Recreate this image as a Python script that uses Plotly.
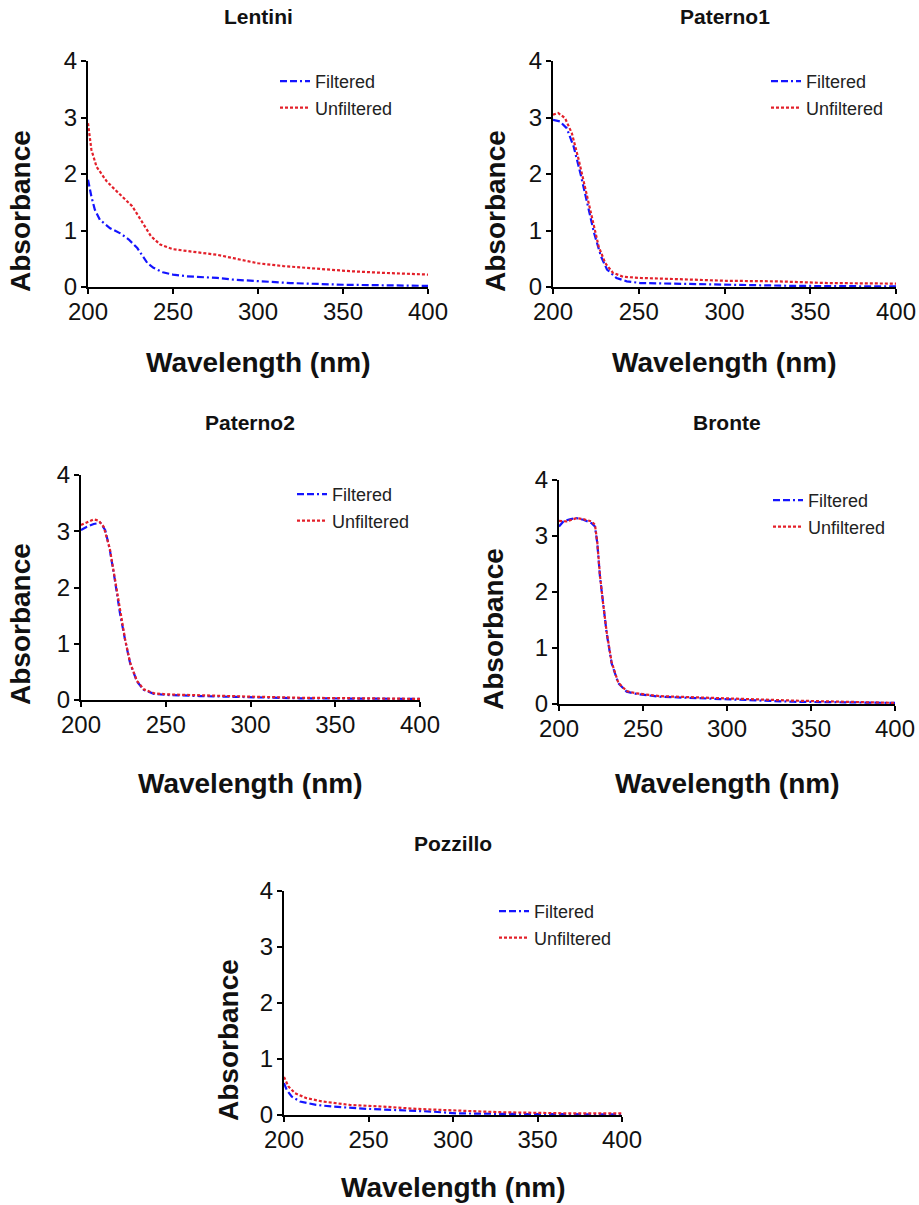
import plotly.graph_objects as go

# UV absorbance spectra (wavelength in nm) for five sampling sites
lentini_wl_f = [200, 202, 204, 207, 213, 219, 224, 229, 235, 238.5, 244, 250, 258, 276, 285.5, 300, 319, 350, 400]
lentini_f = [1.9, 1.6, 1.37, 1.19, 1.04, 0.95, 0.84, 0.69, 0.42, 0.34, 0.26, 0.22, 0.19, 0.16, 0.13, 0.10, 0.07, 0.04, 0.02]
lentini_wl_u = [200, 202, 205, 211, 216, 221, 226, 231, 237, 242.5, 250, 260, 276, 285.5, 300, 315, 334, 354, 374, 400]
lentini_u = [2.9, 2.43, 2.13, 1.87, 1.72, 1.57, 1.43, 1.19, 0.9, 0.75, 0.67, 0.63, 0.57, 0.51, 0.42, 0.37, 0.32, 0.28, 0.25, 0.22]

paterno1_wl_f = [200, 204, 208, 212, 216, 220, 224, 228, 231.5, 237, 243, 251, 272, 297, 340, 400]
paterno1_f = [2.96, 2.93, 2.81, 2.49, 2.01, 1.48, 0.95, 0.54, 0.31, 0.16, 0.10, 0.07, 0.06, 0.04, 0.02, 0.01]
paterno1_wl_u = [200, 203, 207, 211, 215, 219, 223, 226.6, 230.5, 235, 241, 251, 272, 301, 330.6, 360, 400]
paterno1_u = [3.05, 3.08, 2.99, 2.72, 2.25, 1.72, 1.19, 0.72, 0.42, 0.25, 0.18, 0.16, 0.14, 0.11, 0.10, 0.07, 0.06]

paterno2_wl_f = [200, 203.5, 207.5, 211.4, 214.3, 217, 220, 223, 226, 229, 233, 237, 243, 250.7, 270, 300, 329, 400]
paterno2_f = [3.02, 3.08, 3.13, 3.15, 3.02, 2.67, 2.13, 1.54, 1.07, 0.65, 0.33, 0.18, 0.11, 0.09, 0.07, 0.05, 0.03, 0.02]
paterno2_wl_u = [200, 203.5, 207.5, 210.4, 213.4, 217, 220, 223, 226, 229, 233, 237, 243, 250.7, 270, 300, 329, 400]
paterno2_u = [3.11, 3.15, 3.21, 3.19, 3.08, 2.69, 2.15, 1.56, 1.08, 0.66, 0.34, 0.19, 0.12, 0.10, 0.08, 0.06, 0.04, 0.02]

bronte_wl_f = [200, 202.6, 206.5, 210.5, 214.5, 219.4, 221.4, 222.8, 224.4, 226.4, 228.4, 231.3, 235.3, 240.3, 246, 260, 280, 300, 319.6, 339.5, 400]
bronte_f = [3.17, 3.26, 3.30, 3.32, 3.29, 3.23, 3.17, 2.87, 2.27, 1.74, 1.26, 0.73, 0.37, 0.22, 0.18, 0.13, 0.11, 0.08, 0.06, 0.04, 0.02]
bronte_wl_u = [200, 204.6, 210.5, 214.5, 219.4, 221.4, 222.8, 224.4, 226.4, 228.4, 231.3, 235.3, 240.3, 246, 260, 280, 300, 319.6, 340, 400]
bronte_u = [3.27, 3.26, 3.32, 3.30, 3.26, 3.20, 2.89, 2.29, 1.76, 1.28, 0.75, 0.38, 0.23, 0.19, 0.14, 0.12, 0.09, 0.07, 0.06, 0.02]

pozzillo_wl_f = [200, 201.6, 204.5, 209.5, 219, 229, 249, 268.6, 288, 302, 327.7, 400]
pozzillo_f = [0.57, 0.45, 0.33, 0.24, 0.18, 0.15, 0.11, 0.09, 0.06, 0.03, 0.02, 0.01]
pozzillo_wl_u = [200, 202.6, 206.5, 213.4, 223, 239, 258.7, 278, 302, 327.7, 367, 400]
pozzillo_u = [0.68, 0.51, 0.39, 0.30, 0.24, 0.18, 0.15, 0.11, 0.08, 0.05, 0.03, 0.03]

site_names = ["Lentini", "Paterno1", "Paterno2", "Bronte", "Pozzillo"]
series = [
    (lentini_wl_f, lentini_f, lentini_wl_u, lentini_u),
    (paterno1_wl_f, paterno1_f, paterno1_wl_u, paterno1_u),
    (paterno2_wl_f, paterno2_f, paterno2_wl_u, paterno2_u),
    (bronte_wl_f, bronte_f, bronte_wl_u, bronte_u),
    (pozzillo_wl_f, pozzillo_f, pozzillo_wl_u, pozzillo_u),
]
x_ticks = [200, 250, 300, 350, 400]
y_ticks = [0, 1, 2, 3, 4]

W, H = 919, 1205
# plot boxes in pixels: (left, right, top, bottom)
boxes = [
    (88, 428, 61, 287),
    (553, 896, 61, 287),
    (81, 420, 475, 700),
    (559, 895, 480, 704),
    (284, 622, 891, 1115),
]
# title y, x-title y, y-title x, y-title centre y, legend (x, y) in pixels
extras = [
    (17, 362, 20, 211, 275, 63),
    (17, 362, 495, 211, 766, 63),
    (423, 783, 20, 624, 292, 476),
    (423, 783, 493, 629, 768, 482),
    (843, 1187, 228, 1040, 494, 893),
]

FONT = "Liberation Sans, Arial, sans-serif"
BLUE = "#1414ff"
RED = "#e3202a"

fig = go.Figure()
layout = dict(
    template="none",
    width=W, height=H, margin=dict(l=0, r=0, t=0, b=0, autoexpand=False),
    paper_bgcolor="white", plot_bgcolor="white",
    font=dict(family=FONT, color="#111111"),
    annotations=[],
)

for i, (name, (wf, f, wu, u), box, ex) in enumerate(zip(site_names, series, boxes, extras)):
    n = i + 1
    xa = "x" if n == 1 else f"x{n}"
    ya = "y" if n == 1 else f"y{n}"
    lg = "legend" if n == 1 else f"legend{n}"
    fig.add_trace(go.Scatter(
        x=wf, y=f, mode="lines", name="Filtered", xaxis=xa, yaxis=ya,
        legend=lg,
        line=dict(color=BLUE, width=2.2, dash="7px,3px,7px,3px,2px,3px"),
    ))
    fig.add_trace(go.Scatter(
        x=wu, y=u, mode="lines", name="Unfiltered", xaxis=xa, yaxis=ya,
        legend=lg,
        line=dict(color=RED, width=2.2, dash="3px,2px"),
    ))
    l, r, t, b = box
    axis_common = dict(
        showline=True, linecolor="black", linewidth=2, mirror=False,
        ticks="outside", ticklen=5, tickwidth=2, tickcolor="black",
        showgrid=False, zeroline=False, automargin=False,
        tickfont=dict(family=FONT, size=24, color="#111111"),
    )
    layout["xaxis" if n == 1 else f"xaxis{n}"] = dict(
        axis_common, domain=[l / W, r / W], range=[200, 400],
        tickvals=x_ticks, anchor=ya, ticklabelstandoff=-3,
    )
    layout["yaxis" if n == 1 else f"yaxis{n}"] = dict(
        axis_common, domain=[1 - b / H, 1 - t / H], range=[0, 4],
        tickvals=y_ticks, anchor=xa, ticklabelstandoff=-1,
    )
    ty, xty, ytx, ytyc, lgx, lgy = ex
    layout["annotations"] += [
        dict(text=f"<b>{name}</b>", x=(l + r) / 2 / W, y=1 - ty / H, xref="paper", yref="paper",
             showarrow=False, xanchor="center", yanchor="middle",
             font=dict(family=FONT, size=21, color="#111111")),
        dict(text="<b>Wavelength (nm)</b>", x=(l + r) / 2 / W, y=1 - xty / H, xref="paper", yref="paper",
             showarrow=False, xanchor="center", yanchor="middle",
             font=dict(family=FONT, size=28, color="#111111")),
        dict(text="<b>Absorbance</b>", x=ytx / W, y=1 - ytyc / H, xref="paper", yref="paper",
             showarrow=False, xanchor="center", yanchor="middle", textangle=-90,
             font=dict(family=FONT, size=28, color="#111111")),
    ]
    layout[lg] = dict(
        x=lgx / W, y=1 - lgy / H, xanchor="left", yanchor="top",
        bgcolor="rgba(0,0,0,0)", borderwidth=0,
        traceorder="normal",
        font=dict(family=FONT, size=18, color="#222222"),
    )

fig.update_layout(**layout)
fig.write_html("out.html")
